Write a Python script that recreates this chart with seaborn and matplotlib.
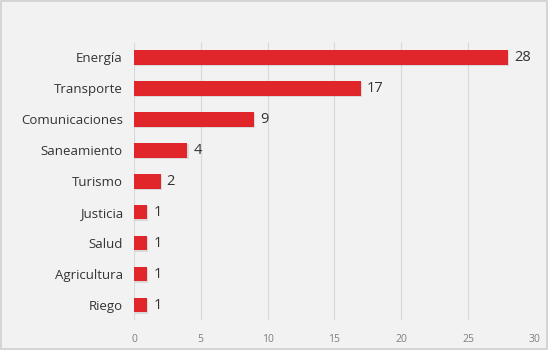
import matplotlib
matplotlib.use("Agg")
import matplotlib.pyplot as plt
import matplotlib.patheffects as pe
from matplotlib.patches import Rectangle
import seaborn as sns
import pandas as pd

sectores = ["Energía", "Transporte", "Comunicaciones", "Saneamiento", "Turismo",
            "Justicia", "Salud", "Agricultura", "Riego"]
proyectos = [28, 17, 9, 4, 2, 1, 1, 1, 1]
x_ticks = [0, 5, 10, 15, 20, 25, 30]

df = pd.DataFrame({"sector": sectores, "proyectos": proyectos})

sns.set_theme(style="white")
plt.rcParams["font.family"] = ["Open Sans", "DejaVu Sans"]

bg = "#f2f2f2"
fig = plt.figure(figsize=(5.48, 3.5), dpi=100, facecolor=bg)
ax = fig.add_axes([0.2445, 0.0843, 0.7315, 0.7967], facecolor=bg)

sns.barplot(data=df, x="proyectos", y="sector", orient="h", color="#e0262b",
            width=0.48, saturation=1, ax=ax, zorder=3)

for bar in ax.patches:
    bar.set_edgecolor("none")
    bar.set_path_effects([pe.SimplePatchShadow(offset=(0.8, -1.0), shadow_rgbFace="#000000",
                                               alpha=0.10), pe.Normal()])

for bar, v in zip(ax.patches, proyectos):
    ax.text(bar.get_width() + 0.45, bar.get_y() + bar.get_height() / 2, f"{v}",
            va="center", ha="left", fontsize=10.5, color="#333333")

ax.set_xlim(0, 30)
ax.set_ylim(8.5, -0.5)
ax.set_xticks(x_ticks)
ax.set_xticklabels([str(t) for t in x_ticks], fontsize=7.5, color="#7f7f7f")
ax.tick_params(axis="x", length=0, pad=10)
ax.tick_params(axis="y", length=0, pad=8, labelsize=9.5, labelcolor="#333333")
ax.xaxis.grid(True, color="#d9d9d9", linewidth=0.8, zorder=0)
ax.set_axisbelow(True)
ax.set_xlabel("")
ax.set_ylabel("")
for s in ax.spines.values():
    s.set_visible(False)

fig.patches.append(Rectangle((0.002, 0.003), 0.996, 0.994, transform=fig.transFigure,
                             fill=False, edgecolor="#d0d0d0", linewidth=1.2))

fig.savefig("out.png", dpi=100, facecolor=bg)
